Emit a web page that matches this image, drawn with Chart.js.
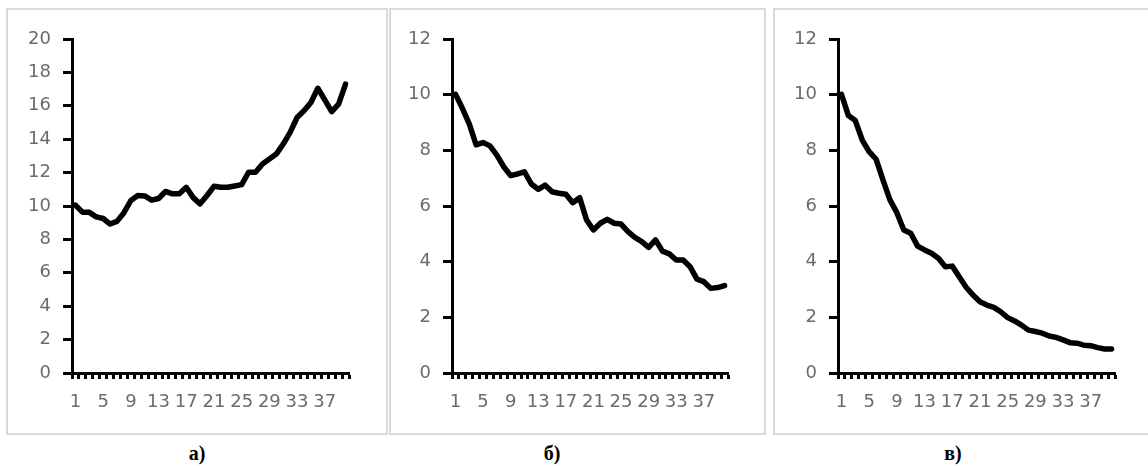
<!DOCTYPE html>
<html>
<head>
<meta charset="utf-8">
<script src="https://cdn.jsdelivr.net/npm/chart.js@4"></script>
<style>
  html, body { margin:0; padding:0; background:#fff; }
  body { width:1148px; height:466px; position:relative; overflow:hidden; }
  .box { position:absolute; top:8px; height:427px; box-sizing:border-box; border:2px solid #d9d9d9; background:#fff; }
  canvas { position:absolute; }
  .cap { position:absolute; top:442px; width:60px; text-align:center; font:bold 20px "Liberation Serif", serif; color:#000; }
</style>
</head>
<body>
<div class="box" style="left:6px;width:382px;"></div>
<div class="box" style="left:389px;width:377px;"></div>
<div class="box" style="left:773px;width:390px;"></div>
<canvas id="ca" width="378" height="423" style="left:8px;top:10px;"></canvas>
<canvas id="cb" width="372" height="423" style="left:391px;top:10px;"></canvas>
<canvas id="cc" width="373" height="423" style="left:775px;top:10px;"></canvas>
<div class="cap" style="left:167px;">а)</div>
<div class="cap" style="left:522px;">б)</div>
<div class="cap" style="left:923px;">в)</div>
<script>
const categories = ['1','2','3','4','5','6','7','8','9','10','11','12','13','14','15','16','17','18','19','20',
  '21','22','23','24','25','26','27','28','29','30','31','32','33','34','35','36','37','38','39','40'];
const xTickLabels = ['1','5','9','13','17','21','25','29','33','37'];
const seriesA = [10.05, 9.63, 9.62, 9.35, 9.25, 8.92, 9.08, 9.6, 10.33, 10.63, 10.6, 10.35, 10.45, 10.87, 10.73, 10.73, 11.12, 10.5, 10.13, 10.63,
  11.18, 11.12, 11.12, 11.2, 11.28, 12.02, 12.02, 12.52, 12.81, 13.11, 13.71, 14.41, 15.3, 15.7, 16.2, 17.05, 16.35, 15.65, 16.1, 17.3];
const seriesB = [10.02, 9.51, 8.95, 8.2, 8.28, 8.16, 7.83, 7.41, 7.09, 7.15, 7.23, 6.79, 6.6, 6.75, 6.51, 6.46, 6.42, 6.12, 6.3, 5.5,
  5.14, 5.38, 5.52, 5.38, 5.35, 5.08, 4.87, 4.72, 4.51, 4.78, 4.38, 4.28, 4.06, 4.06, 3.82, 3.37, 3.28, 3.04, 3.07, 3.14];
const seriesC = [10.01, 9.25, 9.07, 8.37, 7.95, 7.68, 6.93, 6.22, 5.76, 5.14, 5.02, 4.56, 4.42, 4.3, 4.12, 3.82, 3.84, 3.46, 3.08, 2.8,
  2.56, 2.44, 2.36, 2.2, 1.99, 1.87, 1.72, 1.54, 1.49, 1.43, 1.33, 1.28, 1.19, 1.09, 1.07, 1.0, 0.98, 0.91, 0.86, 0.86];
const yMaxA = 20, yMaxB = 12, yMaxC = 12;

const tickFont = { family: '"DejaVu Sans", sans-serif', size: 18 };
const tickColor = '#6b6b6b';

function makeChart(id, values, yMax, yWidth, padRight) {
  new Chart(document.getElementById(id), {
    type: 'line',
    data: {
      labels: categories,
      datasets: [{
        data: values,
        borderColor: '#000',
        borderWidth: 5.5,
        tension: 0,
        pointRadius: 0,
        borderJoinStyle: 'round',
        borderCapStyle: 'round',
        fill: false
      }]
    },
    options: {
      responsive: false,
      animation: false,
      events: [],
      layout: { padding: { left: 0, top: 29, right: padRight, bottom: 0 } },
      plugins: { legend: { display: false }, tooltip: { enabled: false }, title: { display: false } },
      scales: {
        x: {
          type: 'category',
          offset: true,
          grid: { offset: true, drawOnChartArea: false, drawTicks: true, tickLength: 6, tickColor: '#000', tickWidth: 3 },
          border: { display: true, color: '#000', width: 3 },
          ticks: {
            autoSkip: false, maxRotation: 0, minRotation: 0, padding: 13,
            color: tickColor, font: tickFont,
            callback: function(v, i) { const l = categories[i]; return xTickLabels.includes(l) ? l : ''; }
          },
          afterFit: function(s) { s.height = 60; }
        },
        y: {
          min: 0, max: yMax,
          grid: { drawOnChartArea: false, drawTicks: true, tickLength: 9, tickColor: '#000', tickWidth: 3 },
          border: { display: true, color: '#000', width: 3 },
          ticks: { stepSize: 2, padding: 12, color: tickColor, font: tickFont },
          afterFit: function(s) { s.width = yWidth; }
        }
      }
    }
  });
}
makeChart('ca', seriesA, yMaxA, 64, 37);
makeChart('cb', seriesB, yMaxB, 61, 35);
makeChart('cc', seriesC, yMaxC, 63, 33);
</script>
</body>
</html>
